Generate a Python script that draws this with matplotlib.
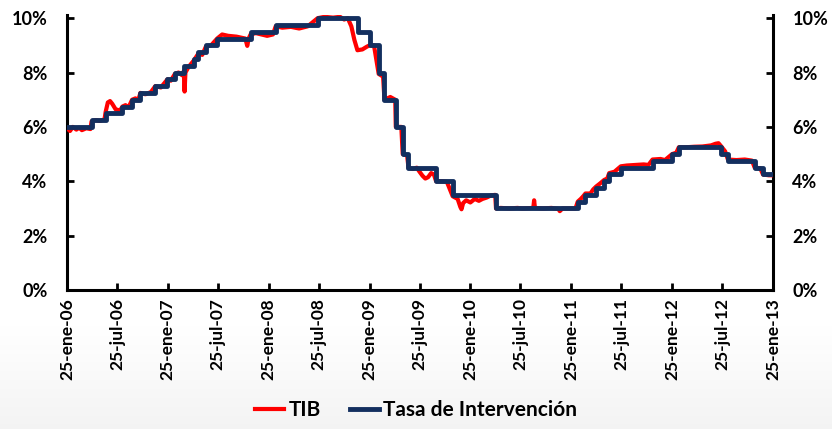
import matplotlib
matplotlib.use("Agg")
import matplotlib.pyplot as plt
import numpy as np
import pandas as pd

plt.rcParams["font.family"] = ["Lato", "DejaVu Sans"]
plt.rcParams["font.weight"] = "bold"

# Tasa de Intervención: fecha de cada cambio y nivel (%)
policy_dates = [
    "2006-01-25", "2006-04-24", "2006-06-14", "2006-08-14", "2006-09-18", "2006-10-18",
    "2006-12-11", "2007-01-24", "2007-02-20", "2007-03-24", "2007-04-30", "2007-05-16",
    "2007-06-12", "2007-07-23", "2007-11-21", "2008-02-20", "2008-07-21", "2008-12-15",
    "2009-01-25", "2009-02-27", "2009-03-20", "2009-04-30", "2009-05-25", "2009-06-15",
    "2009-09-23", "2009-11-22", "2010-04-28", "2011-02-18", "2011-03-18", "2011-04-25",
    "2011-05-25", "2011-06-12", "2011-07-24", "2011-11-16", "2012-01-26", "2012-02-19",
    "2012-07-22", "2012-08-15", "2012-11-20", "2012-12-20", "2013-01-25",
]
policy_rate = [
    6.00, 6.25, 6.50, 6.75, 7.00, 7.25,
    7.50, 7.75, 8.00, 8.25, 8.50, 8.75,
    9.00, 9.25, 9.50, 9.75, 10.00, 9.50,
    9.00, 8.00, 7.00, 6.00, 5.00, 4.50,
    4.00, 3.50, 3.00, 3.25, 3.50, 3.75,
    4.00, 4.25, 4.50, 4.75, 5.00, 5.25,
    5.00, 4.75, 4.50, 4.25, 4.25,
]

# TIB (%)
tib_dates = [
    "2006-01-25", "2006-02-05", "2006-02-15", "2006-02-28", "2006-03-10", "2006-03-20",
    "2006-04-05", "2006-04-20", "2006-04-24", "2006-05-10", "2006-05-25", "2006-06-10",
    "2006-06-14", "2006-06-22", "2006-06-30", "2006-07-08", "2006-07-20", "2006-08-05",
    "2006-08-14", "2006-08-25", "2006-09-05", "2006-09-18", "2006-09-30", "2006-10-10",
    "2006-10-18", "2006-11-05", "2006-11-25", "2006-12-11", "2006-12-31", "2007-01-24",
    "2007-02-05", "2007-02-20", "2007-03-05", "2007-03-18", "2007-03-24", "2007-03-27",
    "2007-03-30", "2007-04-10", "2007-04-30", "2007-05-16", "2007-05-30", "2007-06-12",
    "2007-07-01", "2007-07-23", "2007-08-10", "2007-09-01", "2007-10-01", "2007-11-02",
    "2007-11-09", "2007-11-14", "2007-11-21", "2007-12-10", "2007-12-31", "2008-01-20",
    "2008-02-10", "2008-02-20", "2008-03-15", "2008-04-15", "2008-05-15", "2008-06-15",
    "2008-07-21", "2008-08-15", "2008-09-15", "2008-10-10", "2008-10-25", "2008-11-07",
    "2008-11-20", "2008-12-01", "2008-12-12", "2008-12-30", "2009-01-15", "2009-01-25",
    "2009-02-10", "2009-02-27", "2009-03-15", "2009-03-20", "2009-04-10", "2009-04-28",
    "2009-04-30", "2009-05-20", "2009-05-25", "2009-06-10", "2009-06-15", "2009-07-01",
    "2009-07-15", "2009-07-25", "2009-08-05", "2009-08-15", "2009-08-25", "2009-09-05",
    "2009-09-15", "2009-09-23", "2009-10-15", "2009-11-01", "2009-11-22", "2009-12-10",
    "2009-12-20", "2009-12-24", "2009-12-30", "2010-01-10", "2010-01-25", "2010-02-10",
    "2010-02-25", "2010-03-10", "2010-03-25", "2010-04-10", "2010-04-25", "2010-04-28",
    "2010-05-15", "2010-06-15", "2010-07-15", "2010-08-01", "2010-09-10", "2010-09-13",
    "2010-09-16", "2010-10-15", "2010-11-15", "2010-12-10", "2010-12-15", "2010-12-25",
    "2011-01-15", "2011-02-10", "2011-02-18", "2011-03-01", "2011-03-10", "2011-03-18",
    "2011-04-05", "2011-04-15", "2011-04-25", "2011-05-10", "2011-05-25", "2011-06-05",
    "2011-06-12", "2011-07-01", "2011-07-24", "2011-08-15", "2011-09-15", "2011-10-15",
    "2011-11-01", "2011-11-16", "2011-12-15", "2011-12-31", "2012-01-26", "2012-02-10",
    "2012-02-19", "2012-03-15", "2012-04-15", "2012-05-15", "2012-06-15", "2012-07-01",
    "2012-07-12", "2012-07-22", "2012-08-05", "2012-08-15", "2012-09-15", "2012-10-15",
    "2012-11-10", "2012-11-20", "2012-12-10", "2012-12-20", "2013-01-10", "2013-01-25",
]
tib_rate = [
    5.95, 5.85, 6.00, 5.90, 5.97, 5.88,
    5.95, 5.92, 6.20, 6.25, 6.22, 6.28,
    6.55, 6.90, 6.95, 6.85, 6.65, 6.60,
    6.75, 6.80, 6.72, 7.00, 7.05, 6.98,
    7.25, 7.20, 7.28, 7.50, 7.45, 7.75,
    7.70, 7.95, 8.00, 7.90, 8.05, 7.30,
    8.00, 8.20, 8.45, 8.70, 8.65, 8.95,
    9.00, 9.25, 9.40, 9.35, 9.32, 9.25,
    8.98, 9.25, 9.40, 9.45, 9.40, 9.35,
    9.40, 9.70, 9.65, 9.68, 9.62, 9.70,
    10.00, 10.05, 10.02, 10.05, 9.95, 10.00,
    9.70, 9.20, 8.82, 8.85, 8.95, 9.00,
    9.00, 7.95, 7.85, 7.00, 7.10, 7.00,
    6.00, 6.00, 5.00, 4.95, 4.50, 4.45,
    4.50, 4.35, 4.20, 4.10, 4.15, 4.30,
    4.25, 4.00, 4.00, 3.98, 3.45, 3.35,
    3.05, 2.97, 3.20, 3.30, 3.22, 3.35,
    3.28, 3.35, 3.40, 3.48, 3.50, 3.00,
    3.02, 3.00, 3.02, 3.00, 3.02, 3.30,
    3.02, 3.00, 3.02, 2.98, 2.90, 3.00,
    3.00, 3.00, 3.25, 3.35, 3.45, 3.55,
    3.55, 3.70, 3.80, 3.92, 4.05, 4.10,
    4.30, 4.35, 4.55, 4.58, 4.60, 4.62,
    4.60, 4.80, 4.82, 4.78, 5.00, 5.05,
    5.25, 5.25, 5.27, 5.28, 5.32, 5.38,
    5.40, 5.28, 5.10, 4.80, 4.78, 4.80,
    4.76, 4.50, 4.48, 4.25, 4.22, 4.22,
]

tick_dates = [
    "2006-01-25", "2006-07-25", "2007-01-25", "2007-07-25", "2008-01-25",
    "2008-07-25", "2009-01-25", "2009-07-25", "2010-01-25", "2010-07-25",
    "2011-01-25", "2011-07-25", "2012-01-25", "2012-07-25", "2013-01-25",
]
tick_labels = [
    "25-ene-06", "25-jul-06", "25-ene-07", "25-jul-07", "25-ene-08",
    "25-jul-08", "25-ene-09", "25-jul-09", "25-ene-10", "25-jul-10",
    "25-ene-11", "25-jul-11", "25-ene-12", "25-jul-12", "25-ene-13",
]
y_ticks = [0, 2, 4, 6, 8, 10]

RED = "#ff0000"
NAVY = "#132f5f"

fig = plt.figure(figsize=(8.32, 4.29), dpi=100, facecolor="white")

# fondo con degradado suave en la parte baja
bg = fig.add_axes([0, 0, 1, 1], zorder=-10)
grad = np.linspace(0.955, 1.0, 256).reshape(-1, 1)
grad = np.clip((grad - 0.955) * 1.9 + 0.955, 0.955, 1.0)
bg.imshow(np.dstack([grad, grad, grad]), aspect="auto", origin="lower",
          extent=[0, 1, 0, 0.45])
bg.add_patch(plt.Rectangle((0, 0.45), 1, 0.55, color="white"))
bg.set_xlim(0, 1)
bg.set_ylim(0, 1)
bg.axis("off")

ax = fig.add_axes([0.0805, 0.324, 0.8485, 0.640])
ax.set_facecolor("white")

tib_x = pd.to_datetime(tib_dates)
pol_x = pd.to_datetime(policy_dates)
ax.plot(tib_x, tib_rate, color=RED, linewidth=3.0, label="TIB", zorder=3)
ax.plot(pol_x, policy_rate, color=NAVY, linewidth=3.5, drawstyle="steps-post",
        label="Tasa de Intervención", zorder=4)

ax.set_xlim(pd.Timestamp("2006-01-25"), pd.Timestamp("2013-01-25"))
ax.set_ylim(0, 10.1)
ax.set_xticks(pd.to_datetime(tick_dates))
ax.set_xticklabels(tick_labels, rotation=90, fontsize=12.5, fontweight="bold")
ax.set_yticks(y_ticks)
ax.set_yticklabels([f"{v}%" for v in y_ticks], fontsize=13, fontweight="bold")
ax.tick_params(axis="x", direction="in", length=5, width=2, pad=6)
ax.tick_params(axis="y", direction="in", length=5, width=2, pad=14,
               left=True, right=True, labelleft=True, labelright=True)

for side in ["left", "right", "bottom"]:
    ax.spines[side].set_linewidth(2.2)
    ax.spines[side].set_color("black")
ax.spines["top"].set_visible(False)

fig.legend(loc="center", bbox_to_anchor=(0.5, 0.044), ncol=2, frameon=False,
           handlelength=1.4, handletextpad=0.2, columnspacing=1.4,
           prop={"size": 15, "weight": "bold"})

fig.savefig("out.png", dpi=100, facecolor=fig.get_facecolor())
